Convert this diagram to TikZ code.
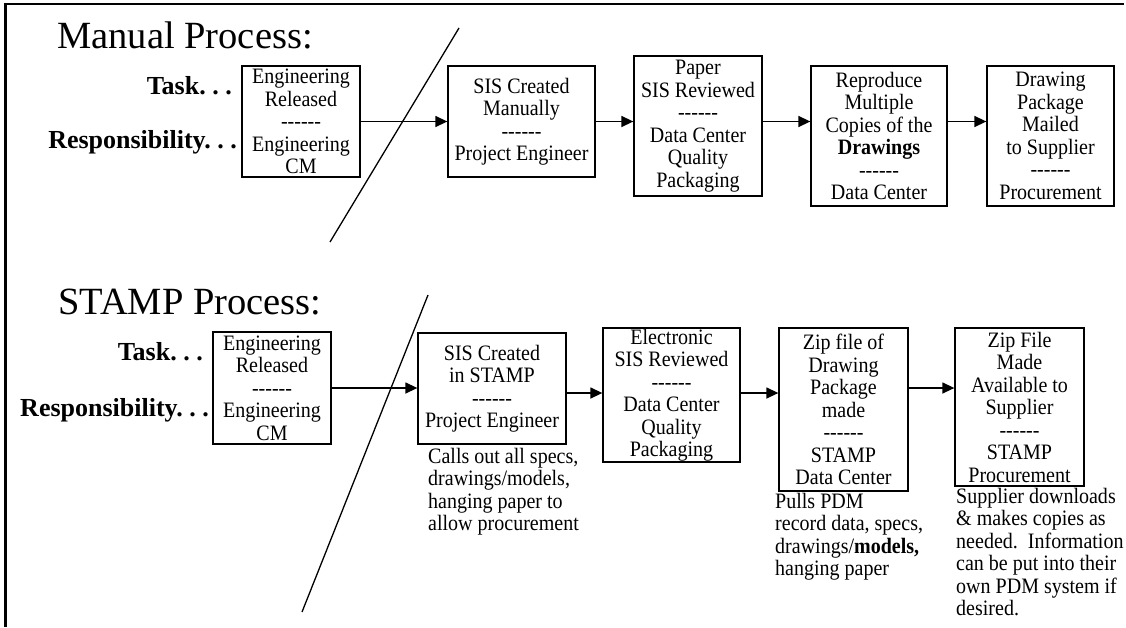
\documentclass[tikz,border=0pt]{standalone}
\usepackage{fontspec}
% plain hyphens must stay hyphens, so the TeX dash ligatures are switched off
\setmainfont{Liberation Serif}[Ligatures=TeXOff]
% a slightly narrowed cut of the same face, set at a larger size, for box and note text
\newfontfamily\tallserif{Liberation Serif}[Ligatures=TeXOff, FakeStretch=0.91]
\usetikzlibrary{arrows.meta}

\begin{document}
\begin{tikzpicture}[x=1pt,y=-1pt,
  stepbox/.style={draw, line width=1.3pt, inner sep=0pt, align=center,
    font=\tallserif\fontsize{22}{22.5}\selectfont},
  heading/.style={anchor=base west, inner sep=0pt, font=\fontsize{38.5}{40}\selectfont},
  rowlabel/.style={anchor=base east, inner sep=0pt, font=\fontsize{26}{28}\selectfont\bfseries},
  note/.style={anchor=north west, inner sep=0pt, align=left,
    font=\tallserif\fontsize{22}{22.5}\selectfont},
  flow/.style={line width=1.4pt, -{Triangle[length=12pt,width=11pt]}},
  cut/.style={line width=1.3pt}]

\useasboundingbox (0,0) rectangle (1126,627);

% frame along top and left edges
\draw[line width=2.5pt] (1124,4) -- (5.7,4) -- (5.7,627);

% ---------------- manual process ----------------
\node[heading] (mtitle) at (57,48) {Manual Process:};
\node[rowlabel] (mtask) at (232,94) {Task.\ .\ .};
\node[rowlabel] (mresp) at (237,148) {Responsibility.\ .\ .};

\node[stepbox, minimum width=118pt, minimum height=111pt] (m1) at (301,121.5)
  {Engineering\\Released\\------\\Engineering\\CM};
\node[stepbox, minimum width=147pt, minimum height=111pt] (m2) at (521.5,121.5)
  {SIS Created\\Manually\\------\\Project Engineer};
\node[stepbox, minimum width=128pt, minimum height=140pt] (m3) at (698,126)
  {Paper\\SIS Reviewed\\------\\Data Center\\Quality\\Packaging};
\node[stepbox, minimum width=136pt, minimum height=140pt] (m4) at (879,136)
  {Reproduce\\Multiple\\Copies of the\\\textbf{Drawings}\\------\\Data Center};
\node[stepbox, minimum width=127pt, minimum height=140pt] (m5) at (1050.5,136)
  {Drawing\\Package\\Mailed\\to Supplier\\------\\Procurement};

\coordinate (mcuttop) at (459,28);
\coordinate (mcutbot) at (330,242);
\draw[cut] (mcuttop) -- (mcutbot);

\draw[flow] (m1.east) -- (m2.west);
\draw[flow] (m2.east) -- (m2.east -| m3.west);
\draw[flow] (m3.east |- m2.east) -- (m4.west |- m2.east);
\draw[flow] (m4.east |- m2.east) -- (m5.west |- m2.east);

% ---------------- STAMP process ----------------
\node[heading] (stitle) at (58,314) {STAMP Process:};
\node[rowlabel] (stask) at (203,360) {Task.\ .\ .};
\node[rowlabel] (sresp) at (209,416) {Responsibility.\ .\ .};

\node[stepbox, minimum width=118pt, minimum height=112pt] (s1) at (272,388)
  {Engineering\\Released\\------\\Engineering\\CM};
\node[stepbox, minimum width=148pt, minimum height=111pt] (s2) at (492,388.5)
  {SIS Created\\in STAMP\\------\\Project Engineer};
\node[stepbox, minimum width=137pt, minimum height=134pt] (s3) at (671.5,395)
  {Electronic\\SIS Reviewed\\------\\Data Center\\Quality\\Packaging};
\node[stepbox, minimum width=129pt, minimum height=163pt] (s4) at (843.5,409.5)
  {Zip file of\\Drawing\\Package\\made\\------\\STAMP\\Data Center};
\node[stepbox, minimum width=129pt, minimum height=158pt] (s5) at (1019.5,407)
  {Zip File\\Made\\Available to\\Supplier\\------\\STAMP\\Procurement};

\coordinate (scuttop) at (428,295);
\coordinate (scutbot) at (302,612);
\draw[cut] (scuttop) -- (scutbot);

\coordinate (srowa) at (0,388);
\coordinate (srowb) at (0,393);
\draw[flow] (s1.east |- srowa) -- (s2.west |- srowa);
\draw[flow] (s2.east |- srowb) -- (s3.west |- srowb);
\draw[flow] (s3.east |- srowb) -- (s4.west |- srowb);
\draw[flow] (s4.east |- srowa) -- (s5.west |- srowa);

% notes under the STAMP steps
\node[note] (n2) at (428,448)
  {Calls out all specs,\\drawings/models,\\hanging paper to\\allow procurement};
\node[note] (n4) at (775,493)
  {Pulls PDM\\record data, specs,\\drawings/\textbf{models,}\\hanging paper};
\node[note] (n5) at (956,488)
  {Supplier downloads\\\& makes copies as\\needed.\ \ Information\\can be put into their\\own PDM system if\\desired.};

\end{tikzpicture}
\end{document}
